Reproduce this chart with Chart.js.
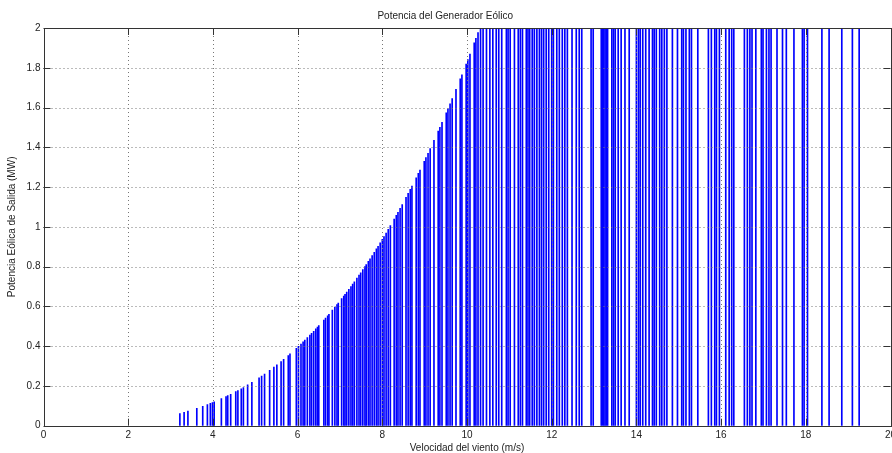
<!DOCTYPE html>
<html>
<head>
<meta charset="utf-8">
<script src="https://cdn.jsdelivr.net/npm/chart.js"></script>
<style>
  body { margin: 0; background: #fff; }
  canvas { display: block; }
</style>
</head>
<body>
<canvas id="c" width="892" height="453"></canvas>
<script>
// wind speeds (m/s) below rated speed and the power read at each (MW)
const rampSpeeds = [3.22, 3.32, 3.41, 3.62, 3.76, 3.87, 3.94, 3.99, 4.03, 4.20, 4.31, 4.35, 4.42, 4.54, 4.59, 4.67, 4.72, 4.82, 4.92,
  5.09, 5.15, 5.22, 5.34, 5.44, 5.51, 5.61, 5.67, 5.78, 5.82, 5.97, 6.02, 6.08, 6.13, 6.17, 6.23, 6.29, 6.33, 6.38, 6.43, 6.47, 6.50,
  6.62, 6.66, 6.71, 6.74, 6.82, 6.88, 6.93, 6.96, 7.04, 7.09, 7.12, 7.16, 7.21, 7.26, 7.30, 7.34, 7.40, 7.45, 7.49, 7.54, 7.59, 7.62,
  7.67, 7.71, 7.76, 7.81, 7.86, 7.90, 7.95, 8.00, 8.04, 8.09, 8.14, 8.19, 8.28, 8.33, 8.37, 8.42, 8.47, 8.56, 8.61, 8.66, 8.70, 8.80,
  8.85, 8.89, 8.99, 9.03, 9.08, 9.13, 9.22, 9.32, 9.36, 9.41, 9.51, 9.55, 9.60, 9.65, 9.74, 9.84, 9.88, 9.98, 10.02, 10.07, 10.17,
  10.21, 10.26];
const rampPower = [0.061, 0.067, 0.073, 0.087, 0.097, 0.106, 0.112, 0.116, 0.120, 0.136, 0.147, 0.151, 0.158, 0.171, 0.177, 0.186, 0.192, 0.205, 0.218,
  0.241, 0.250, 0.260, 0.279, 0.295, 0.306, 0.323, 0.334, 0.353, 0.361, 0.389, 0.399, 0.411, 0.422, 0.430, 0.443, 0.456, 0.464, 0.475, 0.487, 0.496, 0.503,
  0.531, 0.541, 0.553, 0.560, 0.581, 0.596, 0.609, 0.617, 0.639, 0.652, 0.661, 0.672, 0.686, 0.700, 0.712, 0.724, 0.742, 0.757, 0.769, 0.785, 0.800, 0.810,
  0.826, 0.839, 0.855, 0.872, 0.889, 0.902, 0.920, 0.937, 0.951, 0.969, 0.987, 1.006, 1.039, 1.058, 1.073, 1.093, 1.112, 1.148, 1.168, 1.189, 1.205, 1.247,
  1.269, 1.286, 1.330, 1.348, 1.370, 1.393, 1.435, 1.482, 1.501, 1.525, 1.574, 1.594, 1.619, 1.645, 1.691, 1.744, 1.765, 1.819, 1.841, 1.869, 1.925,
  1.948, 1.977];

// wind speeds at or above rated speed: every one of these reaches the 2 MW top
const ratedSpeeds = [10.32, 10.38, 10.46, 10.54, 10.61, 10.69, 10.75, 10.82, 10.93, 10.97, 11.02, 11.12, 11.21, 11.26, 11.31, 11.40, 11.44, 11.48,
  11.54, 11.59, 11.65, 11.71, 11.76, 11.81, 11.87, 11.93, 12.00, 12.04, 12.12, 12.18, 12.25, 12.31, 12.37, 12.48, 12.58, 12.65, 12.71, 12.93,
  12.98, 13.17, 13.20, 13.23, 13.26, 13.29, 13.32, 13.42, 13.46, 13.50, 13.57, 13.64, 13.73, 13.83, 14.00, 14.05, 14.09, 14.15, 14.22, 14.30,
  14.38, 14.42, 14.47, 14.55, 14.60, 14.66, 14.72, 14.85, 14.97, 15.07, 15.11, 15.17, 15.25, 15.30, 15.45, 15.70, 15.77, 15.85, 15.89, 15.96,
  16.11, 16.19, 16.25, 16.30, 16.55, 16.62, 16.68, 16.73, 16.82, 16.95, 16.99, 17.07, 17.13, 17.18, 17.32, 17.45, 17.54, 17.72, 17.92, 17.96,
  18.04, 18.38, 18.55, 18.85, 19.10, 19.26];
const ratedPower = 2;

const xTickLabels = ['0', '2', '4', '6', '8', '10', '12', '14', '16', '18', '20'];
const yTickLabels = ['0', '0.2', '0.4', '0.6', '0.8', '1', '1.2', '1.4', '1.6', '1.8', '2'];

const FONT = { family: 'Liberation Sans, Arial, sans-serif', size: 10, weight: 'normal' };
const TEXT = '#222';

const points = rampSpeeds.map((v, i) => ({ x: v, y: rampPower[i] }))
  .concat(ratedSpeeds.map(v => ({ x: v, y: ratedPower })));

// MATLAB look: dotted grid over the stems, inward ticks on all four sides, full box
const matlabAxes = {
  id: 'matlabAxes',
  afterDatasetsDraw(chart) {
    const { ctx, chartArea: a, scales: { x, y } } = chart;
    const line = (x1, y1, x2, y2) => { ctx.beginPath(); ctx.moveTo(x1, y1); ctx.lineTo(x2, y2); ctx.stroke(); };
    ctx.save();
    ctx.lineWidth = 1;
    ctx.strokeStyle = '#777';
    ctx.setLineDash([1, 3]);
    x.ticks.forEach(t => {
      if (t.value <= x.min || t.value >= x.max) return;
      const px = Math.round(x.getPixelForValue(t.value)) + 0.5;
      line(px, a.top, px, a.bottom);
    });
    y.ticks.forEach(t => {
      if (t.value <= y.min || t.value >= y.max) return;
      const py = Math.round(y.getPixelForValue(t.value)) + 0.5;
      line(a.left, py, a.right, py);
    });
    ctx.setLineDash([]);
    ctx.strokeStyle = '#333';
    const tl = 7;
    x.ticks.forEach(t => {
      const px = Math.round(x.getPixelForValue(t.value)) + 0.5;
      line(px, a.bottom, px, a.bottom - tl);
      line(px, a.top, px, a.top + tl);
    });
    y.ticks.forEach(t => {
      const py = Math.round(y.getPixelForValue(t.value)) + 0.5;
      line(a.left, py, a.left + tl, py);
      line(a.right, py, a.right - tl, py);
    });
    ctx.strokeRect(Math.round(a.left) + 0.5, Math.round(a.top) + 0.5,
      Math.round(a.right - a.left), Math.round(a.bottom - a.top));
    ctx.restore();
  }
};

new Chart(document.getElementById('c'), {
  type: 'bar',
  data: {
    datasets: [{
      data: points,
      backgroundColor: '#0000ff',
      borderWidth: 0,
      barThickness: 1
    }]
  },
  options: {
    responsive: false,
    animation: false,
    devicePixelRatio: 1,
    layout: { padding: { left: 0, right: 1.5, top: 0, bottom: 0 } },
    plugins: {
      legend: { display: false },
      tooltip: { enabled: false },
      title: {
        display: true,
        text: 'Potencia del Generador Eólico',
        color: TEXT,
        font: { ...FONT, lineHeight: 1.2 },
        padding: { top: 10, bottom: 6 }
      }
    },
    scales: {
      x: {
        type: 'linear',
        offset: false,
        min: 0,
        max: 20,
        grid: { display: false, drawTicks: false },
        border: { display: false },
        ticks: {
          stepSize: 2,
          padding: 4,
          maxRotation: 0,
          autoSkip: false,
          color: TEXT,
          font: FONT,
          callback: (v) => xTickLabels[Math.round(v / 2)]
        },
        title: {
          display: true,
          text: 'Velocidad del viento (m/s)',
          color: TEXT,
          font: { ...FONT, lineHeight: 1 },
          padding: { top: 0, bottom: 0 }
        },
        afterFit: (s) => { s.height = 27.3; s.paddingLeft = 0; s.paddingRight = 0; }
      },
      y: {
        min: 0,
        max: 2,
        grid: { display: false, drawTicks: false },
        border: { display: false },
        ticks: {
          stepSize: 0.2,
          padding: 3,
          autoSkip: false,
          color: TEXT,
          font: FONT,
          callback: (v) => yTickLabels[Math.round(v / 0.2)]
        },
        title: {
          display: true,
          text: 'Potencia Eólica de Salida (MW)',
          color: TEXT,
          font: { ...FONT, lineHeight: 1.2 },
          padding: { top: 6, bottom: 0 }
        },
        afterFit: (s) => { s.width = 43.5; s.paddingTop = 0; s.paddingBottom = 0; }
      }
    }
  },
  plugins: [matlabAxes]
});
</script>
</body>
</html>
